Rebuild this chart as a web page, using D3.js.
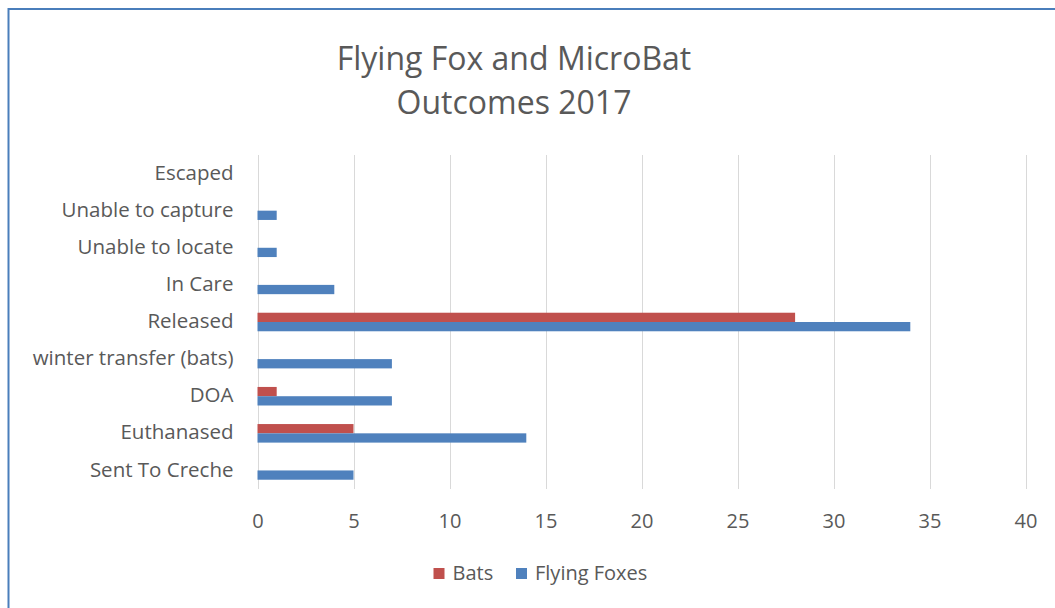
<!DOCTYPE html>
<html>
<head>
<meta charset="utf-8">
<script src="https://cdn.jsdelivr.net/npm/d3@7"></script>
<style>
  html, body { margin: 0; padding: 0; background: #fff; }
  svg { display: block; }
  text { font-family: "Open Sans", Lato, sans-serif; fill: #595959; }
</style>
</head>
<body>
<svg id="chart" width="1055" height="608"></svg>
<script>
// Outcome categories, top to bottom
const categories = [
  "Escaped",
  "Unable to capture",
  "Unable to locate",
  "In Care",
  "Released",
  "winter transfer (bats)",
  "DOA",
  "Euthanased",
  "Sent To Creche"
];
const seriesNames = ["Bats", "Flying Foxes"];
const bats        = [0, 0, 0, 0, 28, 0, 1, 5, 0];
const flyingFoxes = [0, 1, 1, 4, 34, 7, 7, 14, 5];
const xTicks = [0, 5, 10, 15, 20, 25, 30, 35, 40];
const titleLines = ["Flying Fox and MicroBat", "Outcomes 2017"];

const colors = { "Bats": "#C0504D", "Flying Foxes": "#4F81BD" };
const font = "'Open Sans', Lato, sans-serif";

const svg = d3.select("#chart");

// chart frame
svg.append("rect")
  .attr("x", 8.5).attr("y", 9)
  .attr("width", 1100).attr("height", 700)
  .attr("fill", "none")
  .attr("stroke", "#4A7EBB")
  .attr("stroke-width", 2);

const plot = { left: 257.5, right: 1025.5, top: 155, bottom: 489 };

const x = d3.scaleLinear().domain([0, 40]).range([plot.left, plot.right]);
const y = d3.scaleBand().domain(categories).range([plot.top, plot.bottom]).paddingInner(0.5).paddingOuter(0.25);
const ySub = d3.scaleBand().domain(seriesNames).range([0, y.bandwidth()]);

// vertical gridlines
svg.append("g")
  .selectAll("line")
  .data(xTicks)
  .join("line")
  .attr("x1", d => Math.round(x(d)) + 0.5)
  .attr("x2", d => Math.round(x(d)) + 0.5)
  .attr("y1", plot.top)
  .attr("y2", plot.bottom)
  .attr("stroke", "#D9D9D9")
  .attr("stroke-width", 1);

// bars
const rows = categories.map((c, i) => ({ cat: c, values: [
  { name: "Bats", value: bats[i] },
  { name: "Flying Foxes", value: flyingFoxes[i] }
]}));

const groups = svg.append("g")
  .selectAll("g")
  .data(rows)
  .join("g")
  .attr("transform", d => `translate(0,${y(d.cat)})`);

groups.selectAll("rect")
  .data(d => d.values.filter(v => v.value > 0))
  .join("rect")
  .attr("x", x(0))
  .attr("y", d => ySub(d.name))
  .attr("width", d => x(d.value) - x(0))
  .attr("height", ySub.bandwidth())
  .attr("fill", d => colors[d.name]);

// category axis labels
const yAxis = d3.axisLeft(y).tickSize(0).tickPadding(0);
const gy = svg.append("g")
  .attr("transform", `translate(${plot.left - 24},0)`)
  .call(yAxis);
gy.select(".domain").remove();
gy.selectAll("text")
  .attr("font-size", 20.5)
  .attr("fill", "#595959")
  .attr("font-family", font)
  .attr("dy", "0.3em");

// value axis labels
const xAxis = d3.axisBottom(x).tickValues(xTicks).tickSize(0).tickPadding(0);
const gx = svg.append("g")
  .attr("transform", `translate(0,${plot.bottom + 24.5})`)
  .call(xAxis);
gx.select(".domain").remove();
gx.selectAll("text")
  .attr("font-size", 20)
  .attr("fill", "#595959")
  .attr("font-family", font)
  .attr("dy", "0.71em");

// title
svg.append("g")
  .selectAll("text")
  .data(titleLines)
  .join("text")
  .attr("x", 514)
  .attr("y", (d, i) => 70 + i * 44)
  .attr("text-anchor", "middle")
  .attr("font-size", 32)
  .text(d => d);

// legend
const legend = svg.append("g");
const legendItems = [
  { name: "Bats", x: 433.5 },
  { name: "Flying Foxes", x: 516 }
];
legendItems.forEach(item => {
  legend.append("rect")
    .attr("x", item.x).attr("y", 568)
    .attr("width", 11).attr("height", 11)
    .attr("fill", colors[item.name]);
  legend.append("text")
    .attr("x", item.x + 19).attr("y", 580)
    .attr("font-size", 20)
    .text(item.name);
});
</script>
</body>
</html>
